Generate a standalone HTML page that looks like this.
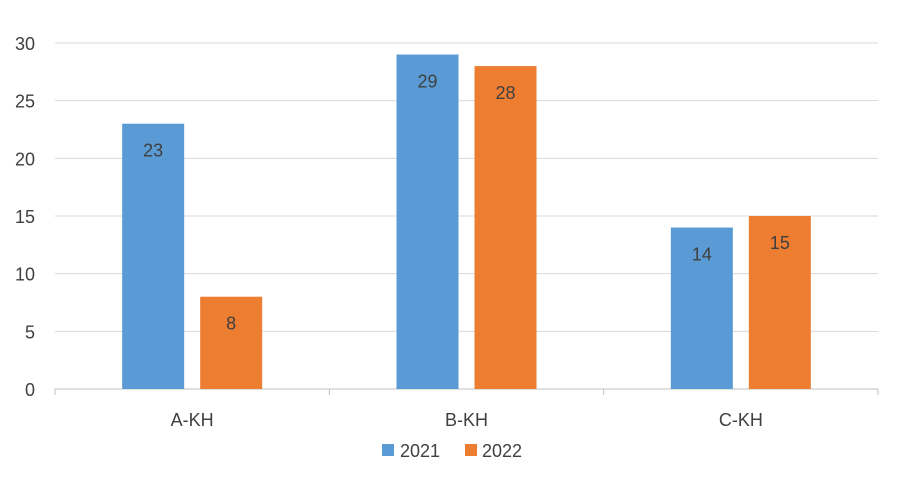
<!DOCTYPE html>
<html><head><meta charset="utf-8"><style>
html,body{margin:0;padding:0;background:#fff;}
svg text{font-family:"Liberation Sans",sans-serif;fill:#404040;}
</style></head><body>
<svg id="chart" width="900" height="480" xmlns="http://www.w3.org/2000/svg">
<g id="grid"></g><g id="bars"></g><g id="axis"></g>
<g>
<rect x="382" y="444" width="12" height="12" fill="#5B9BD5"/>
<text x="400" y="457" font-size="18">2021</text>
<rect x="465" y="444" width="12" height="12" fill="#ED7D31"/>
<text x="482" y="457" font-size="18">2022</text>
</g>
</svg>
<script>
const categories=["A-KH","B-KH","C-KH"];
const series2021=[23,29,14];
const series2022=[8,28,15];
const yTicks=[0,5,10,15,20,25,30];
const NS="http://www.w3.org/2000/svg";
const x0=55,x1=878,yBase=389,yTop=43,yMax=30;
const y=v=>yBase-(v/yMax)*(yBase-yTop);
const cw=(x1-x0)/categories.length;
const cx=i=>x0+cw*(i+0.5);
function mk(tag,attrs,parent){const e=document.createElementNS(NS,tag);for(const k in attrs)e.setAttribute(k,attrs[k]);document.getElementById(parent).appendChild(e);return e;}
yTicks.forEach(t=>{
 const l=mk('line',{x1:x0,x2:x1,y1:y(t),y2:y(t),stroke:t===0?'#BFBFBF':'#D9D9D9','stroke-width':1},'grid');
 
 
 const tx=mk('text',{x:35,y:y(t)+7,'text-anchor':'end','font-size':18},'axis');
 tx.textContent=t;
 
 
});
for(let i=0;i<=categories.length;i++){
 const t=mk('line',{x1:x0+cw*i,x2:x0+cw*i,y1:yBase,y2:yBase+6,stroke:'#BFBFBF'},'axis');
 
 
}
const bw=62,gap=16;
categories.forEach((c,i)=>{
 [[series2021,'#5B9BD5',cx(i)-gap/2-bw,'2021'],[series2022,'#ED7D31',cx(i)+gap/2,'2022']].forEach(([s,col,bx,nm])=>{
  const v=s[i];
  const r=mk('rect',{x:bx,y:y(v),width:bw,height:yBase-y(v),fill:col},'bars');
  
  
  const t=mk('text',{x:bx+bw/2,y:y(v)+33,'text-anchor':'middle','font-size':18},'bars');
  t.textContent=v;
  
  
 });
 const l=mk('text',{x:cx(i),y:426,'text-anchor':'middle','font-size':18},'axis');
 l.textContent=c;
 
 
});
</script>
</body></html>
